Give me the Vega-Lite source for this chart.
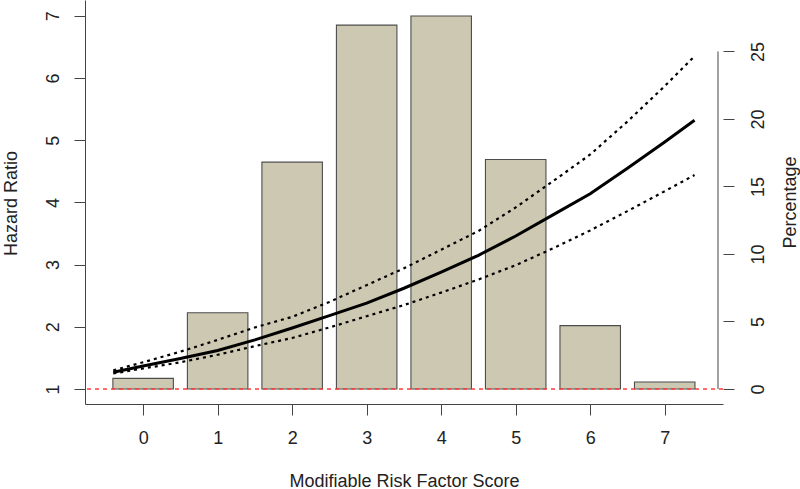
{
  "$schema": "https://vega.github.io/schema/vega-lite/v6.json",
  "width": 638,
  "height": 404,
  "autosize": {"type": "none"},
  "padding": {"left": 85, "right": 77, "top": 0, "bottom": 85},
  "datasets": {
    "bars": [
      {"score": 0, "pct": 0.79},
      {"score": 1, "pct": 5.65},
      {"score": 2, "pct": 16.8},
      {"score": 3, "pct": 26.95},
      {"score": 4, "pct": 27.62},
      {"score": 5, "pct": 17.0},
      {"score": 6, "pct": 4.69},
      {"score": 7, "pct": 0.52}
    ],
    "curve": [
      {"score": -0.4, "hr": 1.27, "lo": 1.25, "hi": 1.30},
      {"score": 0, "hr": 1.37, "lo": 1.33, "hi": 1.43},
      {"score": 0.5, "hr": 1.49, "lo": 1.43, "hi": 1.60},
      {"score": 1, "hr": 1.62, "lo": 1.55, "hi": 1.79},
      {"score": 1.5, "hr": 1.79, "lo": 1.69, "hi": 1.99},
      {"score": 2, "hr": 1.98, "lo": 1.82, "hi": 2.16},
      {"score": 2.5, "hr": 2.18, "lo": 1.99, "hi": 2.40},
      {"score": 3, "hr": 2.38, "lo": 2.17, "hi": 2.67},
      {"score": 3.5, "hr": 2.62, "lo": 2.35, "hi": 2.94},
      {"score": 4, "hr": 2.88, "lo": 2.55, "hi": 3.24},
      {"score": 4.5, "hr": 3.15, "lo": 2.76, "hi": 3.54},
      {"score": 5, "hr": 3.46, "lo": 2.99, "hi": 3.92},
      {"score": 5.5, "hr": 3.80, "lo": 3.26, "hi": 4.34},
      {"score": 6, "hr": 4.14, "lo": 3.55, "hi": 4.77},
      {"score": 6.5, "hr": 4.55, "lo": 3.86, "hi": 5.30},
      {"score": 7, "hr": 4.97, "lo": 4.18, "hi": 5.87},
      {"score": 7.4, "hr": 5.32, "lo": 4.44, "hi": 6.35}
    ]
  },
  "layer": [
    {
      "layer": [
        {
          "data": {"name": "bars"},
          "mark": {"type": "bar", "width": 60.5, "fill": "#CDC8B1", "stroke": "#4d4d4d", "strokeWidth": 1.1},
          "encoding": {
            "x": {"field": "score", "type": "quantitative", "title": "Modifiable Risk Factor Score",
                  "scale": {"domain": [-0.713, 7.715], "nice": false, "zero": false},
                  "axis": {"values": [0, 1, 2, 3, 4, 5, 6, 7], "format": "d", "labelPadding": 23, "labelBaseline": "middle",
                           "titleY": 77, "titleBaseline": "middle"}},
            "y": {"field": "pct", "type": "quantitative", "title": "Percentage",
                  "scale": {"domain": [-1.111, 28.81], "nice": false, "zero": false},
                  "axis": {"orient": "right", "values": [0, 5, 10, 15, 20, 25], "format": "d", "domain": false,
                           "labelAngle": -90, "labelAlign": "center", "labelBaseline": "middle", "labelPadding": 24,
                           "titleAngle": -90, "titleX": 67, "titleY": 202, "titleAlign": "center", "titleBaseline": "middle"}},
            "y2": {"datum": 0}
          }
        },
        {
          "data": {"values": [{}]},
          "mark": {"type": "rule", "color": "#444", "strokeWidth": 1},
          "encoding": {
            "x": {"datum": 7.715, "type": "quantitative", "title": "Modifiable Risk Factor Score",
                  "scale": {"domain": [-0.713, 7.715], "nice": false, "zero": false},
                  "axis": {"values": [0, 1, 2, 3, 4, 5, 6, 7], "format": "d", "labelPadding": 23, "labelBaseline": "middle",
                           "titleY": 77, "titleBaseline": "middle"}},
            "y": {"datum": 0, "type": "quantitative", "title": "Percentage"},
            "y2": {"datum": 25}
          }
        }
      ]
    },
    {
      "layer": [
        {
          "data": {"values": [{}]},
          "mark": {"type": "rule", "color": "#ff3b3b", "strokeWidth": 1.4, "strokeDash": [4, 4]},
          "encoding": {
            "y": {"datum": 1, "type": "quantitative", "title": "Hazard Ratio",
                  "scale": {"domain": [0.759, 7.254], "nice": false, "zero": false},
                  "axis": {"orient": "left", "values": [1, 2, 3, 4, 5, 6, 7], "format": "d",
                           "labelAngle": -90, "labelAlign": "center", "labelBaseline": "middle", "labelPadding": 21,
                           "titleAngle": -90, "titleX": -74, "titleY": 203, "titleAlign": "center", "titleBaseline": "middle"}}
          }
        },
        {
          "data": {"name": "curve"},
          "mark": {"type": "line", "color": "black", "strokeWidth": 2.2, "strokeDash": [3, 4]},
          "encoding": {
            "x": {"field": "score", "type": "quantitative", "title": "Modifiable Risk Factor Score",
                  "scale": {"domain": [-0.713, 7.715], "nice": false, "zero": false},
                  "axis": {"values": [0, 1, 2, 3, 4, 5, 6, 7], "format": "d", "labelPadding": 23, "labelBaseline": "middle",
                           "titleY": 77, "titleBaseline": "middle"}},
            "y": {"field": "hi", "type": "quantitative", "title": "Hazard Ratio"}
          }
        },
        {
          "data": {"name": "curve"},
          "mark": {"type": "line", "color": "black", "strokeWidth": 2.2, "strokeDash": [3, 4]},
          "encoding": {
            "x": {"field": "score", "type": "quantitative", "title": "Modifiable Risk Factor Score",
                  "scale": {"domain": [-0.713, 7.715], "nice": false, "zero": false},
                  "axis": {"values": [0, 1, 2, 3, 4, 5, 6, 7], "format": "d", "labelPadding": 23, "labelBaseline": "middle",
                           "titleY": 77, "titleBaseline": "middle"}},
            "y": {"field": "lo", "type": "quantitative", "title": "Hazard Ratio"}
          }
        },
        {
          "data": {"name": "curve"},
          "mark": {"type": "line", "color": "black", "strokeWidth": 3},
          "encoding": {
            "x": {"field": "score", "type": "quantitative", "title": "Modifiable Risk Factor Score",
                  "scale": {"domain": [-0.713, 7.715], "nice": false, "zero": false},
                  "axis": {"values": [0, 1, 2, 3, 4, 5, 6, 7], "format": "d", "labelPadding": 23, "labelBaseline": "middle",
                           "titleY": 77, "titleBaseline": "middle"}},
            "y": {"field": "hr", "type": "quantitative", "title": "Hazard Ratio"}
          }
        }
      ]
    }
  ],
  "resolve": {"scale": {"y": "independent"}, "axis": {"y": "independent"}},
  "config": {
    "view": {"stroke": null},
    "font": "Liberation Sans",
    "axis": {
      "labelFont": "Liberation Sans", "titleFont": "Liberation Sans",
      "labelFontSize": 18, "titleFontSize": 18, "titleFontWeight": "normal",
      "labelColor": "#222", "titleColor": "#222",
      "domainColor": "#444", "tickColor": "#444", "tickSize": 11,
      "grid": false, "labelFlush": false, "labelOverlap": false
    }
  }
}
